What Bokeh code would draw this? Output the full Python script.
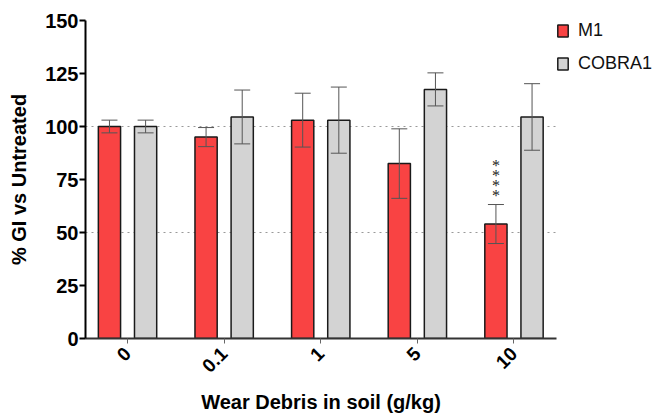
import numpy as np
from bokeh.plotting import figure
from bokeh.models import (ColumnDataSource, Range1d, FixedTicker, Whisker, TeeHead,
                          Legend, LegendItem)
from bokeh.embed import file_html
from bokeh.resources import INLINE

# ---- data ----
categories = ["0", "0.1", "1", "5", "10"]
m1 = [100, 95, 103, 82.5, 54]
m1_err = [3, 4.5, 12.7, 16.4, 9.2]
cobra = [100, 104.5, 103, 117.5, 104.5]
cobra_err = [3, 12.7, 15.6, 7.8, 15.7]
signif = ["", "", "", "", "*\n*\n*\n*"]

FONT = "Liberation Sans"
RED = "#F94343"
GREY = "#D3D3D3"
OFF = 0.187
BW = 0.23

idx = np.arange(len(categories))
src = ColumnDataSource(dict(
    xm=idx - OFF, xc=idx + OFF,
    m1=m1, cobra=cobra,
    m_hi=np.array(m1) + np.array(m1_err), m_lo=np.array(m1) - np.array(m1_err),
    c_hi=np.array(cobra) + np.array(cobra_err), c_lo=np.array(cobra) - np.array(cobra_err),
    sig=signif,
))

p = figure(frame_width=471, frame_height=318, output_backend="svg", toolbar_location=None,
           x_range=Range1d(-0.435, 4.44), y_range=Range1d(0, 150),
           min_border_left=85, min_border_right=100, min_border_top=20, min_border_bottom=62)
p.outline_line_color = None
p.border_fill_color = "white"

r1 = p.vbar(x="xm", top="m1", width=BW, source=src, fill_color=RED,
            line_color="#1a1a1a", line_width=1.5)
r2 = p.vbar(x="xc", top="cobra", width=BW, source=src, fill_color=GREY,
            line_color="#1a1a1a", line_width=1.5)

for base, up, lo in [("xm", "m_hi", "m_lo"), ("xc", "c_hi", "c_lo")]:
    w = Whisker(source=src, base=base, upper=up, lower=lo, dimension="height",
                line_color="#555555", line_width=1,
                upper_head=TeeHead(size=16, line_color="#555555", line_width=1),
                lower_head=TeeHead(size=16, line_color="#555555", line_width=1),
                level="annotation")
    p.add_layout(w)

p.text(x="xm", y="m_hi", text="sig", source=src, text_align="center",
       text_baseline="bottom", text_font=FONT, text_font_size="16px",
       text_line_height=0.58, text_color="#222222", y_offset=-1)

# grid
p.xgrid.visible = False
p.ygrid.ticker = FixedTicker(ticks=[50, 100])
p.ygrid.grid_line_dash = "dotted"
p.ygrid.grid_line_color = "#999999"
p.ygrid.grid_line_width = 1

# y axis
p.yaxis.ticker = FixedTicker(ticks=[0, 25, 50, 75, 100, 125, 150])
p.yaxis.axis_line_width = 2
p.yaxis.axis_line_color = "black"
p.yaxis.major_tick_out = 6
p.yaxis.major_tick_in = 0
p.yaxis.major_tick_line_width = 2
p.yaxis.minor_tick_line_color = None
p.yaxis.major_label_text_font = FONT
p.yaxis.major_label_text_font_style = "bold"
p.yaxis.major_label_text_font_size = "20px"
p.yaxis.major_label_text_color = "black"
p.yaxis.major_label_standoff = 1
p.yaxis.axis_label = "% GI vs Untreated"
p.yaxis.axis_label_text_font = FONT
p.yaxis.axis_label_text_font_style = "bold"
p.yaxis.axis_label_text_font_size = "20px"
p.yaxis.axis_label_text_color = "black"
p.yaxis.axis_label_standoff = 12

# x axis
p.xaxis.ticker = FixedTicker(ticks=list(idx))
p.xaxis.major_label_overrides = {int(i): c for i, c in zip(idx, categories)}
p.xaxis.axis_line_width = 2
p.xaxis.axis_line_color = "#333333"
p.xaxis.major_tick_out = 5
p.xaxis.major_tick_in = 0
p.xaxis.major_tick_line_color = "#666666"
p.xaxis.minor_tick_line_color = None
p.xaxis.major_label_orientation = np.pi / 4
p.xaxis.major_label_text_font = FONT
p.xaxis.major_label_text_font_style = "bold"
p.xaxis.major_label_text_font_size = "19px"
p.xaxis.major_label_text_color = "black"
p.xaxis.major_label_standoff = 7
p.xaxis.axis_label = "Wear Debris in soil (g/kg)"
p.xaxis.axis_label_text_font = FONT
p.xaxis.axis_label_text_font_style = "bold"
p.xaxis.axis_label_text_font_size = "20px"
p.xaxis.axis_label_text_color = "black"
p.xaxis.axis_label_standoff = 10

legend = Legend(items=[LegendItem(label="M1", renderers=[r1]),
                       LegendItem(label="COBRA1", renderers=[r2])],
                location="top_left", margin=0, padding=2, spacing=12,
                glyph_width=13, glyph_height=15, label_height=17, label_standoff=9,
                label_text_font=FONT, label_text_font_size="18px",
                label_text_color="#111111",
                border_line_color=None, background_fill_alpha=0)
p.add_layout(legend, "right")

open("out.html", "w").write(file_html(p, INLINE))
